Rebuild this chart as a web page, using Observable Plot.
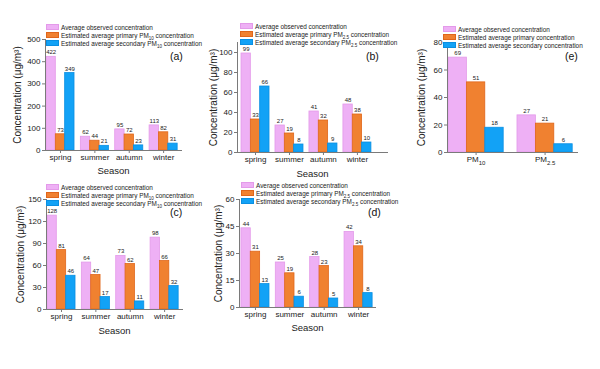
<!DOCTYPE html>
<html><head><meta charset="utf-8">
<script src="https://cdn.jsdelivr.net/npm/d3@7"></script>
<script src="https://cdn.jsdelivr.net/npm/@observablehq/plot@0.6"></script>
<style>
body{margin:0;background:#fff;font-family:"Liberation Sans",Arial,sans-serif;}
#root{position:relative;width:600px;height:369px;overflow:hidden;background:#fff;}
.panel{position:absolute;}
.legend{position:absolute;font-size:6.4px;color:#222;}
.legend .row{display:flex;align-items:center;height:8px;white-space:nowrap;}
.sw{width:13px;height:6.5px;margin-right:2px;box-sizing:border-box;border:0.8px solid;}
.legend sub{font-size:4.5px;vertical-align:-1.5px;line-height:0;}
.tag{position:absolute;font-size:10.5px;color:#111;}
[aria-label="x-axis tick label"]{font-size:8px;}
[aria-label="y-axis tick label"]{font-size:8px;}
[aria-label="y-axis label"]{font-size:10px;}
[aria-label="x-axis label"]{font-size:9.5px;}
</style></head><body><div id="root"></div><script>
// ---- data ----
const seasons = ["spring","summer","autumn","winter"];
const pollutants = ["PM10","PM2.5"];
const seriesNames = ["observed","primary","secondary"];

const aObs = [422,62,95,113], aPri = [73,44,72,82], aSec = [349,21,23,31];
const bObs = [99,27,41,48],   bPri = [33,19,32,38], bSec = [66,8,9,10];
const cObs = [128,64,73,98],  cPri = [81,47,62,66], cSec = [46,17,11,32];
const dObs = [44,25,28,42],   dPri = [31,19,23,34], dSec = [13,6,5,8];
const eObs = [69,27],         ePri = [51,21],       eSec = [18,6];

const aTicks = [0,100,200,300,400,500];
const bTicks = [0,20,40,60,80,100];
const cTicks = [0,30,60,90,120,150];
const dTicks = [0,15,30,45,60];
const eTicks = [0,20,40,60,80];

const legendPM10 = ["Average observed concentration","Estimated average primary PM<sub>10</sub> concentration","Estimated average secondary PM<sub>10</sub> concentration"];
const legendPM25 = ["Average observed concentration","Estimated average primary PM<sub>2.5</sub> concentration","Estimated average secondary PM<sub>2.5</sub> concentration"];
const legendAll = ["Average observed concentration","Estimated average primary concentration","Estimated average secondary concentration"];

const fills = ["#eeb0f5","#f08130","#12a2f6"];
const strokes = ["#e39ae9","#e0661a","#0a8fe2"];

const panels = [
 {tag:"(a)", left:0, top:0, width:190, height:185, ml:45, mr:9, mt:39, mb:35, cats:seasons, vals:[aObs,aPri,aSec], yMax:500, ticks:aTicks, pi:0.184, po:0.07, align:0.2, xLabel:"Season", yOff:32, xOff:23, legend:legendPM10, lx:46, ly:23, tx:170, ty:50},
 {tag:"(b)", left:190, top:0, width:200, height:185, ml:47, mr:3, mt:42, mb:33, cats:seasons, vals:[bObs,bPri,bSec], yMax:110, ticks:bTicks, pi:0.176, po:0.296, align:0.2, xLabel:"Season", yOff:28, xOff:24, legend:legendPM25, lx:240, ly:22, tx:366, ty:50},
 {tag:"(e)", left:390, top:0, width:210, height:185, ml:57, mr:23, mt:42, mb:33, cats:pollutants, vals:[eObs,ePri,eSec], yMax:80, ticks:eTicks, pi:0.2, po:0.042, align:0.17, xLabel:null, yOff:30, xOff:24, legend:legendAll, lx:443, ly:25, tx:565, ty:50},
 {tag:"(c)", left:0, top:180, width:190, height:189, ml:46, mr:8, mt:19, mb:60, cats:seasons, vals:[cObs,cPri,cSec], yMax:150, ticks:cTicks, pi:0.184, po:0.07, align:0.2, xLabel:"Season", yOff:30, xOff:24, legend:legendPM10, lx:46, ly:183, tx:170, ty:206},
 {tag:"(d)", left:190, top:180, width:200, height:189, ml:49, mr:15, mt:19, mb:62, cats:seasons, vals:[dObs,dPri,dSec], yMax:60, ticks:dTicks, pi:0.184, po:0.07, align:0.4, xLabel:"Season", yOff:25, xOff:23, legend:legendPM25, lx:241, ly:181, tx:368, ty:206}
];

const root = document.getElementById("root");

for (const p of panels) {
  const rows = [];
  p.cats.forEach((c, i) => seriesNames.forEach((s, k) => rows.push({cat: c, series: s, k, value: p.vals[k][i]})));
  const bw = d3.scaleBand().domain(p.cats).range([p.ml, p.width - p.mr])
    .paddingInner(p.pi).paddingOuter(p.po).align(p.align).bandwidth();
  const marks = [];
  for (let k = 0; k < 3; k++) {
    const sub = rows.filter(d => d.k === k);
    marks.push(Plot.barY(sub, {x: "cat", y: "value", fill: fills[k], stroke: strokes[k], strokeWidth: 0.8,
      insetLeft: k * bw / 3, insetRight: (2 - k) * bw / 3}));
    marks.push(Plot.text(sub, {x: "cat", y: "value", text: d => String(d.value), dx: (k - 1) * bw / 3, dy: -2.5,
      lineAnchor: "bottom", fontSize: 6, fill: "#222"}));
  }
  marks.push(Plot.frame({anchor: "left", stroke: "#7a7a7a"}));
  marks.push(Plot.frame({anchor: "bottom", stroke: "#7a7a7a"}));
  marks.push(Plot.axisY({ticks: p.ticks, tickSize: 3, tickPadding: 2, stroke: "#7a7a7a", fill: "#222",
    label: "Concentration (μg/m³)", labelAnchor: "center", labelOffset: p.yOff, labelArrow: "none"}));
  marks.push(Plot.axisX({tickSize: 3, tickPadding: 1, stroke: "#7a7a7a", fill: "#222",
    label: p.xLabel, labelAnchor: "center", labelOffset: p.xOff, labelArrow: "none"}));
  const svg = Plot.plot({
    width: p.width, height: p.height,
    marginLeft: p.ml, marginRight: p.mr, marginTop: p.mt, marginBottom: p.mb,
    style: {background: "transparent", overflow: "visible", fontFamily: "Liberation Sans, Arial, sans-serif", fontSize: "8px", color: "#222"},
    x: {domain: p.cats, paddingInner: p.pi, paddingOuter: p.po, align: p.align, round: false, label: null},
    y: {domain: [0, p.yMax], label: null},
    marks
  });
  svg.classList.add("panel");
  svg.style.left = p.left + "px";
  svg.style.top = p.top + "px";
  svg.style.position = "absolute";
  root.appendChild(svg);
  // subscripts for PM tick labels
  svg.querySelectorAll('[aria-label="x-axis tick label"] text').forEach(t => {
    const m = t.textContent.match(/^PM(.+)$/);
    if (m) { t.textContent = "PM"; const ts = document.createElementNS("http://www.w3.org/2000/svg","tspan");
      ts.setAttribute("font-size","6"); ts.setAttribute("dy","2.5"); ts.textContent = m[1]; t.appendChild(ts); }
  });
  // legend
  const lg = document.createElement("div");
  lg.className = "legend";
  lg.style.left = p.lx + "px"; lg.style.top = p.ly + "px";
  p.legend.forEach((txt, k) => {
    const r = document.createElement("div"); r.className = "row";
    r.innerHTML = `<span class="sw" style="background:${fills[k]};border-color:${strokes[k]}"></span><span>${txt}</span>`;
    lg.appendChild(r);
  });
  root.appendChild(lg);
  const tg = document.createElement("div");
  tg.className = "tag"; tg.textContent = p.tag;
  tg.style.left = p.tx + "px"; tg.style.top = p.ty + "px";
  root.appendChild(tg);
}
</script></body></html>
